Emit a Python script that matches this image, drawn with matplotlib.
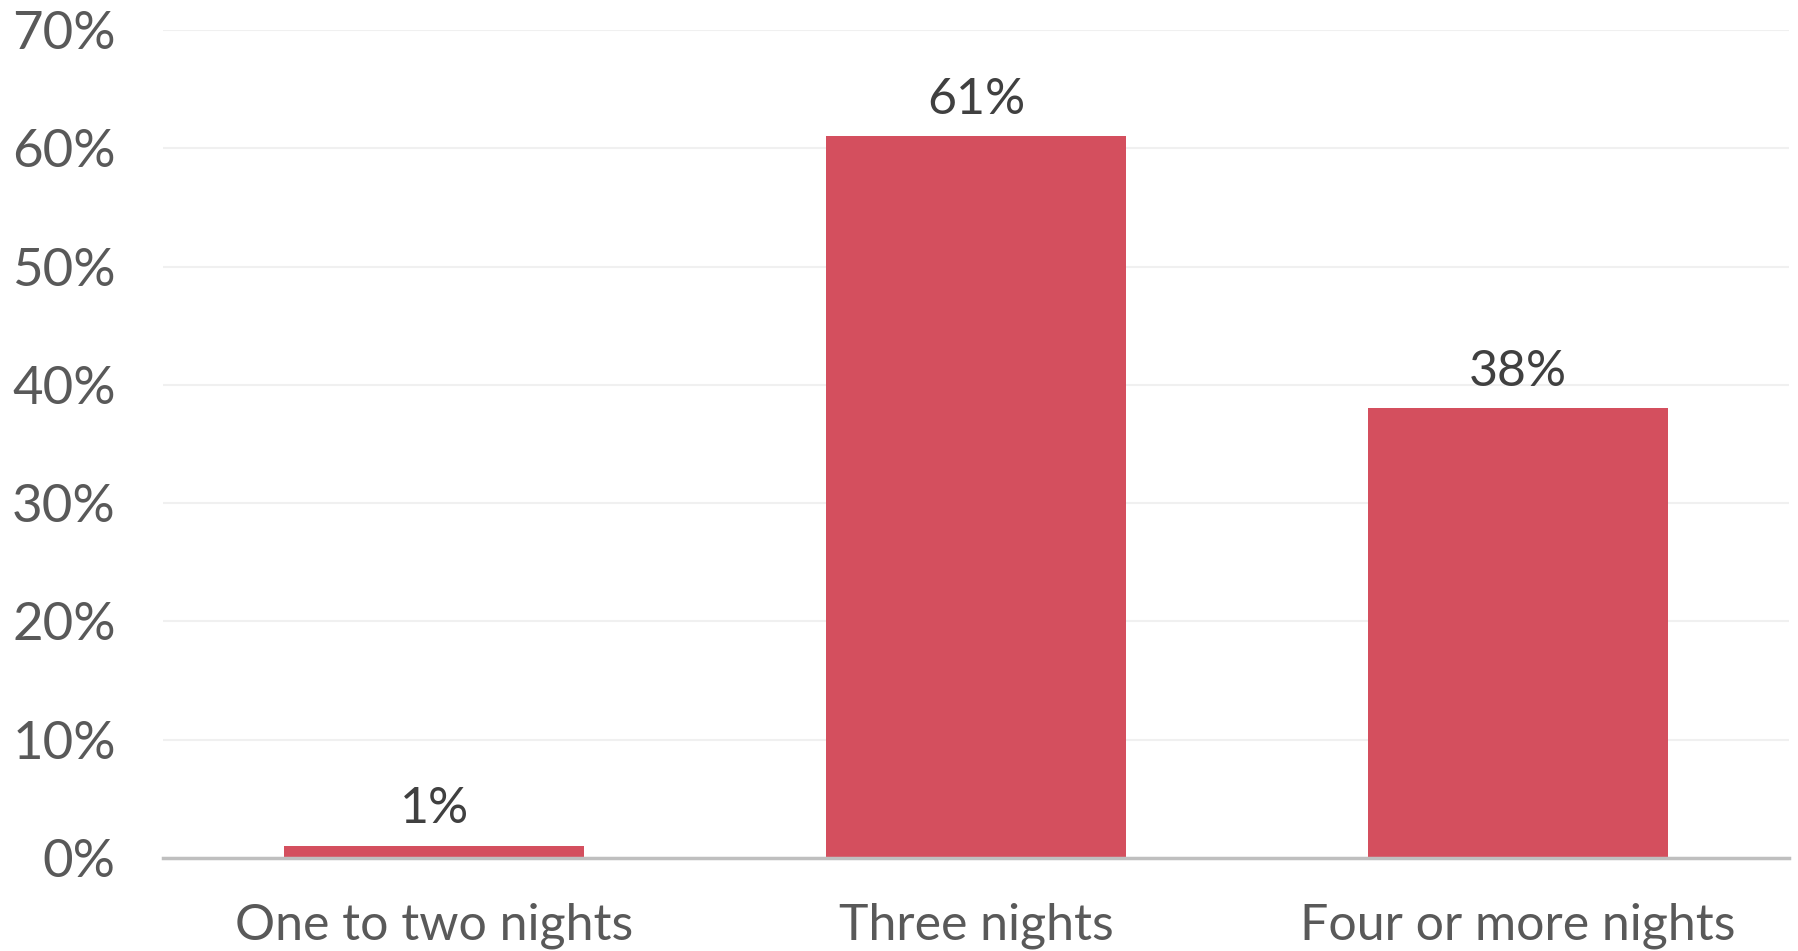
import matplotlib
matplotlib.use("Agg")
import matplotlib.pyplot as plt
from matplotlib.ticker import FuncFormatter

categories = ["One to two nights", "Three nights", "Four or more nights"]
values = [1, 61, 38]
yticks = [0, 10, 20, 30, 40, 50, 60, 70]

plt.rcParams['font.family'] = ['Lato', 'DejaVu Sans']

fig = plt.figure(figsize=(17.98, 9.51), dpi=100)
ax = fig.add_axes([0.0907, 0.0978, 0.9043, 0.8707])

x = range(len(categories))
bars = ax.bar(x, values, width=0.555, color="#D44F5E", zorder=3)

for b, v in zip(bars, values):
    ax.annotate(f"{v}%", (b.get_x() + b.get_width() / 2, b.get_height()),
                xytext=(0, 10), textcoords="offset points",
                ha="center", va="bottom", fontsize=36, color="#404040")

ax.set_xlim(-0.5, 2.5)
ax.set_ylim(0, 70)
ax.set_yticks(yticks)
ax.yaxis.set_major_formatter(FuncFormatter(lambda v, p: f"{int(v)}%"))
ax.set_xticks(list(x))
ax.set_xticklabels(categories)

ax.grid(axis="y", color="#F0F0F0", linewidth=1.5, zorder=0)
for s in ["top", "right", "left"]:
    ax.spines[s].set_visible(False)
ax.spines["bottom"].set_color("#BFBFBF")
ax.spines["bottom"].set_linewidth(2.5)
ax.spines["bottom"].set_zorder(4)

ax.tick_params(axis="y", length=0, pad=34, labelsize=38, labelcolor="#595959")
ax.tick_params(axis="x", length=0, pad=32, labelsize=36, labelcolor="#595959")

fig.savefig("out.png", dpi=100)
